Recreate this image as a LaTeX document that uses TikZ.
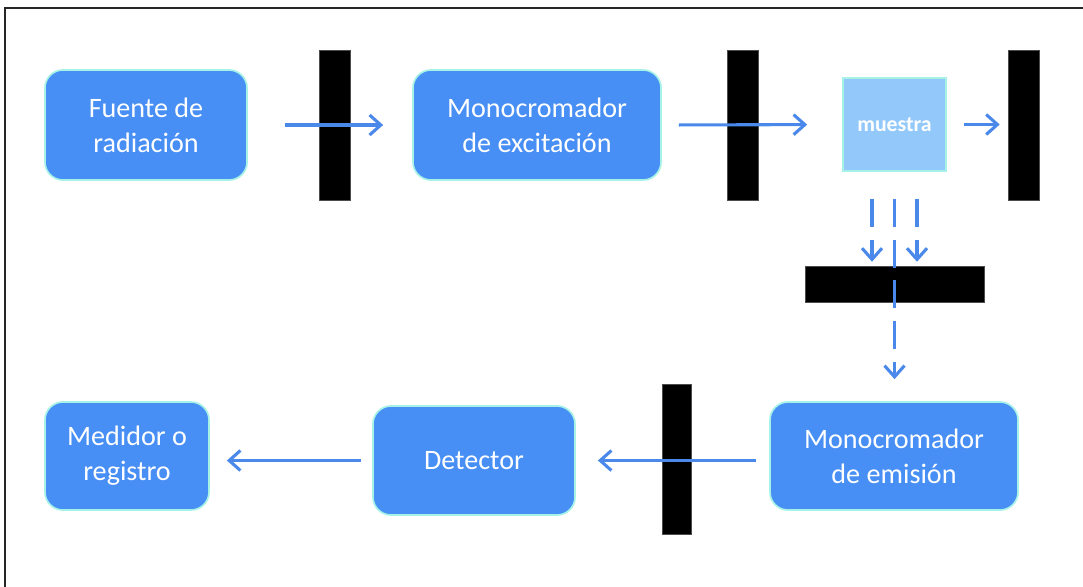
\documentclass[tikz,border=0pt]{standalone}
\usepackage{fontspec}
\setmainfont{Carlito}
\usetikzlibrary{positioning, calc, arrows.meta}
\definecolor{bloqueazul}{HTML}{478EF5}
\definecolor{bordecian}{HTML}{A6F2E6}
\definecolor{muestraazul}{HTML}{93C9FA}
\definecolor{flechaazul}{HTML}{4A88EA}
\tikzset{
    bloque/.style={rectangle, rounded corners=0.45cm, fill=bloqueazul, draw=bordecian, line width=1.2pt, text=white, align=center, font=\fontsize{20}{25}\selectfont},
    filtro/.style={rectangle, fill=black, draw=black!70, line width=0.4pt, inner sep=0pt},
    rayo/.style={draw=flechaazul, line width=2.2pt, -{Straight Barb[length=2.8mm, width=5mm, line width=2.2pt]}},
    rayodisc/.style={rayo, dash pattern=on 0.7cm off 0.32cm}
}
\begin{document}
\begin{tikzpicture}[x=0.025cm, y=-0.025cm]
    \useasboundingbox (0,0) rectangle (1083,586);
    % Marco
    \draw[line width=1.5pt, black!85] (5,600) -- (5,8) -- (1095,8);

    % Fila de arriba
    \node[bloque, minimum width=5.05cm, minimum height=2.75cm] (fuente) at (146,125) {Fuente de\\radiación};
    \node[filtro, minimum width=0.775cm, minimum height=3.75cm] (filtro1) at (334.5,125) {};
    \node[bloque, minimum width=6.2cm, minimum height=2.75cm] (monoexc) at (537,125) {Monocromador\\de excitación};
    \node[filtro, minimum width=0.775cm, minimum height=3.75cm] (filtro2) at (742.5,125) {};
    \node[rectangle, fill=muestraazul, draw=bordecian, line width=1.2pt, text=white, minimum width=2.575cm, minimum height=2.325cm, font=\bfseries\fontsize{15.5}{17}\selectfont] (muestra) at (894.5,124.5) {muestra};
    \node[filtro, minimum width=0.775cm, minimum height=3.75cm] (filtro3) at (1023.5,125) {};

    % Filtro de emision
    \node[filtro, minimum width=4.475cm, minimum height=0.9cm] (filtro5) at (894.5,284) {};

    % Fila de abajo
    \node[bloque, minimum width=6.2cm, minimum height=2.7cm] (emision) at (894,456) {Monocromador\\de emisión};
    \node[filtro, minimum width=0.725cm, minimum height=3.75cm] (filtro4) at (676.5,459) {};
    \node[bloque, minimum width=5.05cm, minimum height=2.725cm] (detector) at (474,460.5) {Detector};
    \node[bloque, minimum width=4.1cm, minimum height=2.7cm] (medidor) at (127,456) {Medidor o\\registro};

    % Rayos de arriba
    \draw[rayo, shorten <=0.925cm, shorten >=0.725cm] (fuente.east) -- (monoexc.west);
    \draw[rayo, shorten <=0.425cm, shorten >=0.875cm] (monoexc.east) -- (muestra.west);
    \draw[rayo, shorten <=0.425cm, shorten >=0.2cm] (muestra.east) -- (muestra.east -| filtro3.west);

    % Rayos de emision
    \draw[rayodisc, shorten <=0.675cm, shorten >=0.1cm] ($(muestra.south)+(-22.5,0)$) -- ($(filtro5.north)+(-22.5,0)$);
    \draw[rayodisc, shorten <=0.675cm, shorten >=0.1cm] ($(muestra.south)+(22.5,0)$) -- ($(filtro5.north)+(22.5,0)$);
    \draw[rayodisc, shorten <=0.675cm, shorten >=0.55cm] (muestra.south) -- (muestra.south |- emision.north);

    % Rayos de abajo
    \draw[rayo, shorten <=0.325cm, shorten >=0.55cm] (emision.west |- detector.east) -- (detector.east);
    \draw[rayo, shorten <=0.275cm, shorten >=0.425cm] (detector.west) -- (detector.west -| medidor.east);
\end{tikzpicture}
\end{document}
